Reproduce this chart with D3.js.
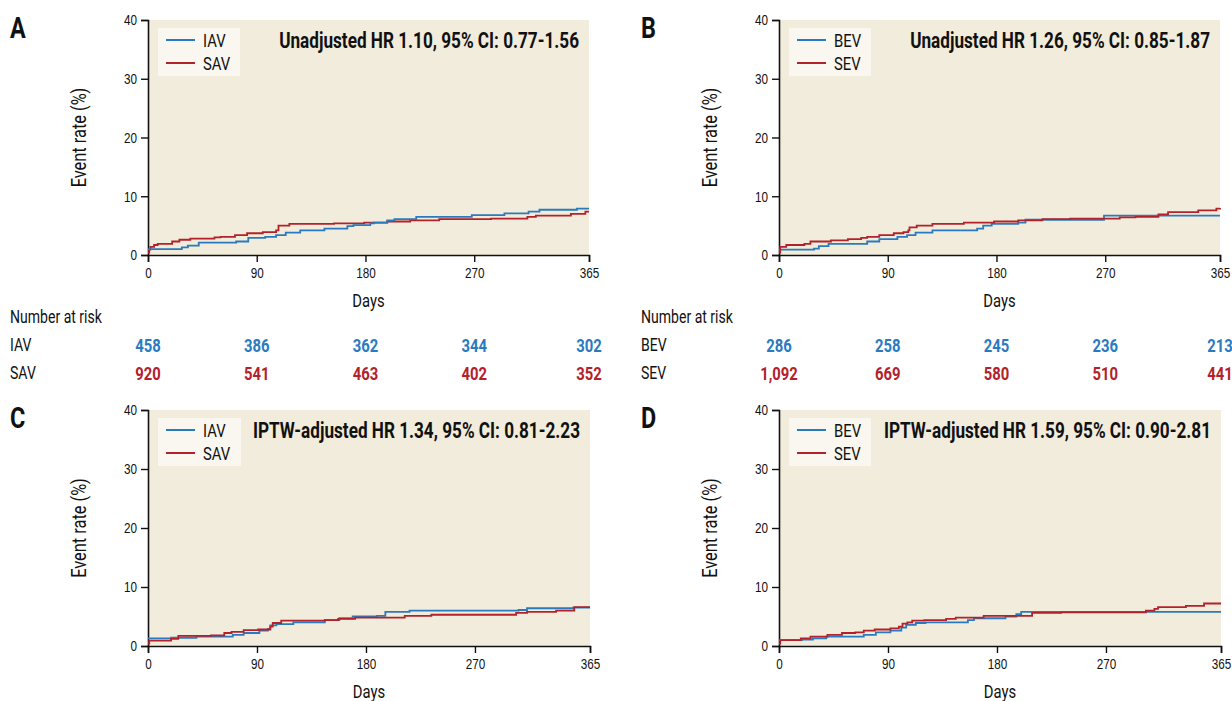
<!DOCTYPE html>
<html lang="en">
<head>
  <meta charset="UTF-8" />
  <title>Event rate curves</title>
  <script src="https://cdn.jsdelivr.net/npm/d3@7"></script>
  <style>
    body {
      margin: 0;
      background: #fff;
      font-family: Roboto, "Liberation Sans", sans-serif;
    }
    svg text { fill: #111; }
  </style>
</head>
<body>
  <svg id="chart" width="1232" height="701"></svg>

  <script type="text/javascript">
    // x ticks shared by every panel
    var dayTicks = [0, 90, 180, 270, 365];
    var rateTicks = [0, 10, 20, 30, 40];

    // Panel A - unadjusted, IAV vs SAV
    var iavDaysA = [0, 28, 33, 42, 73, 83, 97, 106, 114, 126, 146, 165, 170, 184, 187, 198, 204, 222, 268, 295, 315, 324, 355, 365];
    var iavRateA = [1.0, 1.3, 1.6, 2.1, 2.3, 2.9, 3.1, 3.4, 3.8, 4.2, 4.5, 4.9, 5.1, 5.4, 5.5, 5.9, 6.1, 6.5, 6.8, 7.1, 7.4, 7.7, 7.9, 7.9];
    var savDaysA = [0, 1, 2, 5, 8, 20, 26, 35, 55, 60, 72, 82, 95, 106, 108, 117, 154, 179, 198, 217, 241, 284, 314, 321, 350, 362, 365];
    var savRateA = [0.4, 0.9, 1.4, 1.7, 1.9, 2.3, 2.6, 2.8, 3.0, 3.1, 3.4, 3.7, 3.9, 4.2, 5.0, 5.3, 5.4, 5.5, 5.7, 5.9, 6.1, 6.2, 6.5, 6.7, 7.0, 7.4, 7.4];

    // Panel B - unadjusted, BEV vs SEV
    var bevDaysB = [0, 29, 33, 41, 73, 83, 98, 106, 113, 127, 164, 169, 176, 198, 204, 269, 365];
    var bevRateB = [0.9, 1.1, 1.5, 1.9, 2.3, 2.7, 3.1, 3.4, 3.8, 4.2, 4.5, 5.0, 5.3, 5.5, 6.0, 6.7, 6.7];
    var sevDaysB = [0, 1, 6, 21, 26, 43, 57, 68, 73, 83, 95, 103, 107, 108, 114, 127, 153, 178, 198, 218, 241, 282, 295, 314, 322, 347, 362, 365];
    var sevRateB = [0.4, 1.4, 1.7, 1.9, 2.3, 2.5, 2.7, 2.9, 3.1, 3.4, 3.7, 3.9, 4.2, 4.7, 5.0, 5.3, 5.5, 5.7, 5.9, 6.1, 6.2, 6.4, 6.5, 6.9, 7.3, 7.6, 7.9, 8.0];

    // Panel C - IPTW-adjusted, IAV vs SAV
    var iavDaysC = [0, 19, 40, 70, 79, 92, 99, 101, 106, 120, 146, 158, 169, 189, 196, 216, 306, 313, 351, 365];
    var iavRateC = [1.3, 1.4, 1.6, 1.9, 2.2, 2.6, 2.9, 3.5, 3.7, 4.0, 4.4, 4.7, 5.0, 5.1, 5.8, 6.0, 6.1, 6.4, 6.5, 6.5];
    var savDaysC = [0, 1, 19, 25, 52, 63, 69, 79, 91, 101, 103, 110, 146, 157, 171, 212, 234, 304, 313, 337, 352, 365];
    var savRateC = [0.4, 0.9, 1.2, 1.7, 1.8, 2.2, 2.4, 2.7, 2.8, 3.3, 3.9, 4.3, 4.4, 4.6, 4.8, 5.1, 5.3, 5.6, 5.8, 6.0, 6.6, 6.6];

    // Panel D - IPTW-adjusted, BEV vs SEV
    var bevDaysD = [0, 19, 28, 39, 70, 80, 92, 101, 105, 113, 121, 156, 161, 187, 196, 200, 365];
    var bevRateD = [1.0, 1.1, 1.3, 1.6, 1.9, 2.3, 2.6, 3.1, 3.6, 3.9, 4.0, 4.4, 4.7, 5.0, 5.4, 5.8, 5.8];
    var sevDaysD = [0, 1, 18, 26, 40, 52, 63, 70, 79, 92, 99, 102, 106, 110, 120, 138, 146, 169, 209, 233, 303, 310, 313, 336, 351, 365];
    var sevRateD = [0.4, 1.0, 1.3, 1.6, 1.9, 2.2, 2.3, 2.6, 2.8, 3.0, 3.3, 3.8, 4.0, 4.3, 4.4, 4.6, 4.8, 5.1, 5.6, 5.7, 6.0, 6.3, 6.6, 6.8, 7.2, 7.2];

    // Number at risk at each day tick
    var iavRisk = [458, 386, 362, 344, 302];
    var savRisk = [920, 541, 463, 402, 352];
    var bevRisk = [286, 258, 245, 236, 213];
    var sevRisk = [1092, 669, 580, 510, 441];

    var BLUE = "#2a7abf";
    var RED = "#b3212b";
    var NARROW = 0.78; // the original uses a condensed face
    var svg = d3.select("#chart");
    var fmt = d3.format(",");

    function zip(days, rates) {
      return days.map(function(d, i) { return { day: d, rate: rates[i] }; });
    }

    // squeeze text horizontally to fake a condensed font
    function condense(sel) {
      sel.each(function() {
        var w = this.getComputedTextLength();
        d3.select(this)
          .attr("textLength", w * NARROW)
          .attr("lengthAdjust", "spacingAndGlyphs");
      });
      return sel;
    }

    function drawPanel(cfg) {
      var g = svg.append("g");
      var x = d3.scaleLinear().domain([0, 365]).range([cfg.x0, cfg.x1]);
      var y = d3.scaleLinear().domain([0, 40]).range([cfg.y1, cfg.y0]);

      // plot background
      g.append("rect")
        .attr("x", cfg.x0 + 1).attr("y", cfg.y0)
        .attr("width", cfg.x1 - cfg.x0 - 1).attr("height", cfg.y1 - cfg.y0)
        .attr("fill", "#f1ecdb");

      // axes
      var yAxis = g.append("g")
        .attr("transform", "translate(" + cfg.x0 + ",0)")
        .call(d3.axisLeft(y).tickValues(rateTicks).tickSize(7).tickPadding(4));
      var xAxis = g.append("g")
        .attr("transform", "translate(0," + cfg.y1 + ")")
        .call(d3.axisBottom(x).tickValues(dayTicks).tickSize(7).tickPadding(5));
      [xAxis, yAxis].forEach(function(a) {
        a.select(".domain").attr("stroke", "#111").attr("stroke-width", 1.6);
        a.selectAll(".tick line").attr("stroke", "#111").attr("stroke-width", 1.4);
        a.selectAll(".tick text").attr("font-size", 15).attr("font-family", null).attr("fill", "#222");
        condense(a.selectAll(".tick text"));
      });

      // axis titles
      condense(g.append("text")
        .attr("transform", "translate(" + (cfg.x0 - 62) + "," + ((cfg.y0 + cfg.y1) / 2) + ") rotate(-90)")
        .attr("text-anchor", "middle")
        .attr("font-size", 21)
        .text("Event rate (%)"));
      condense(g.append("text")
        .attr("x", (cfg.x0 + cfg.x1) / 2).attr("y", cfg.y1 + 52)
        .attr("text-anchor", "middle")
        .attr("font-size", 19)
        .text("Days"));

      // step curves
      var line = d3.line()
        .x(function(d) { return x(d.day); })
        .y(function(d) { return y(d.rate); })
        .curve(d3.curveStepAfter);
      var series = [
        { data: zip(cfg.redDays, cfg.redRate), color: RED },
        { data: zip(cfg.blueDays, cfg.blueRate), color: BLUE }
      ];
      if (cfg.redOnTop) series.reverse();
      series.forEach(function(s) {
        g.append("path")
          .datum(s.data)
          .attr("d", line)
          .attr("fill", "none")
          .attr("stroke", s.color)
          .attr("stroke-width", 1.8);
      });

      // legend
      var lg = g.append("g").attr("transform", "translate(" + (cfg.x0 + 10) + "," + (cfg.y0 + 8) + ")");
      lg.append("rect").attr("width", cfg.legendW).attr("height", 48).attr("fill", "#f9f7f0");
      [[cfg.blueName, BLUE], [cfg.redName, RED]].forEach(function(it, i) {
        lg.append("line")
          .attr("x1", 8).attr("x2", 37)
          .attr("y1", 12 + i * 23).attr("y2", 12 + i * 23)
          .attr("stroke", it[1]).attr("stroke-width", 2);
        condense(lg.append("text")
          .attr("x", 45).attr("y", 12 + i * 23)
          .attr("dy", "0.36em")
          .attr("font-size", 19)
          .attr("fill", "#222")
          .text(it[0]));
      });

      // hazard ratio
      condense(g.append("text")
        .attr("x", cfg.x1 - 10).attr("y", cfg.y0 + 20)
        .attr("dy", "0.36em")
        .attr("text-anchor", "end")
        .attr("font-size", 22)
        .attr("font-weight", "bold")
        .text(cfg.hr));

      // panel letter
      condense(g.append("text")
        .attr("x", cfg.x0 - 138).attr("y", cfg.y0 + 18)
        .attr("font-size", 30)
        .attr("font-weight", "bold")
        .text(cfg.letter));

      // number at risk table
      if (cfg.blueRisk) {
        condense(g.append("text")
          .attr("x", cfg.x0 - 138).attr("y", cfg.y1 + 62)
          .attr("dy", "0.36em")
          .attr("font-size", 18)
          .text("Number at risk"));
        [[cfg.blueName, cfg.blueRisk, BLUE], [cfg.redName, cfg.redRisk, RED]].forEach(function(row, i) {
          var ry = cfg.y1 + 90 + i * 28;
          condense(g.append("text")
            .attr("x", cfg.x0 - 138).attr("y", ry)
            .attr("dy", "0.36em")
            .attr("font-size", 18)
            .text(row[0]));
          condense(g.selectAll(null)
            .data(row[1])
            .enter().append("text")
            .attr("x", function(d, j) { return x(dayTicks[j]); })
            .attr("y", ry)
            .attr("dy", "0.36em")
            .attr("text-anchor", "middle")
            .attr("font-size", 19)
            .attr("font-weight", "bold")
            .style("fill", row[2])
            .text(function(d) { return fmt(d); }));
        });
      }
    }

    drawPanel({
      letter: "A", x0: 148, x1: 589, y0: 20, y1: 255,
      blueName: "IAV", redName: "SAV", legendW: 82,
      blueDays: iavDaysA, blueRate: iavRateA, redDays: savDaysA, redRate: savRateA,
      blueRisk: iavRisk, redRisk: savRisk,
      hr: "Unadjusted HR 1.10, 95% CI: 0.77-1.56"
    });
    drawPanel({
      letter: "B", x0: 779, x1: 1220, y0: 20, y1: 255,
      blueName: "BEV", redName: "SEV", legendW: 82, redOnTop: true,
      blueDays: bevDaysB, blueRate: bevRateB, redDays: sevDaysB, redRate: sevRateB,
      blueRisk: bevRisk, redRisk: sevRisk,
      hr: "Unadjusted HR 1.26, 95% CI: 0.85-1.87"
    });
    drawPanel({
      letter: "C", x0: 148, x1: 590, y0: 410, y1: 646,
      blueName: "IAV", redName: "SAV", legendW: 83, redOnTop: true,
      blueDays: iavDaysC, blueRate: iavRateC, redDays: savDaysC, redRate: savRateC,
      hr: "IPTW-adjusted HR 1.34, 95% CI: 0.81-2.23"
    });
    drawPanel({
      letter: "D", x0: 779, x1: 1221, y0: 410, y1: 646,
      blueName: "BEV", redName: "SEV", legendW: 82, redOnTop: true,
      blueDays: bevDaysD, blueRate: bevRateD, redDays: sevDaysD, redRate: sevRateD,
      hr: "IPTW-adjusted HR 1.59, 95% CI: 0.90-2.81"
    });
  </script>
</body>
</html>
